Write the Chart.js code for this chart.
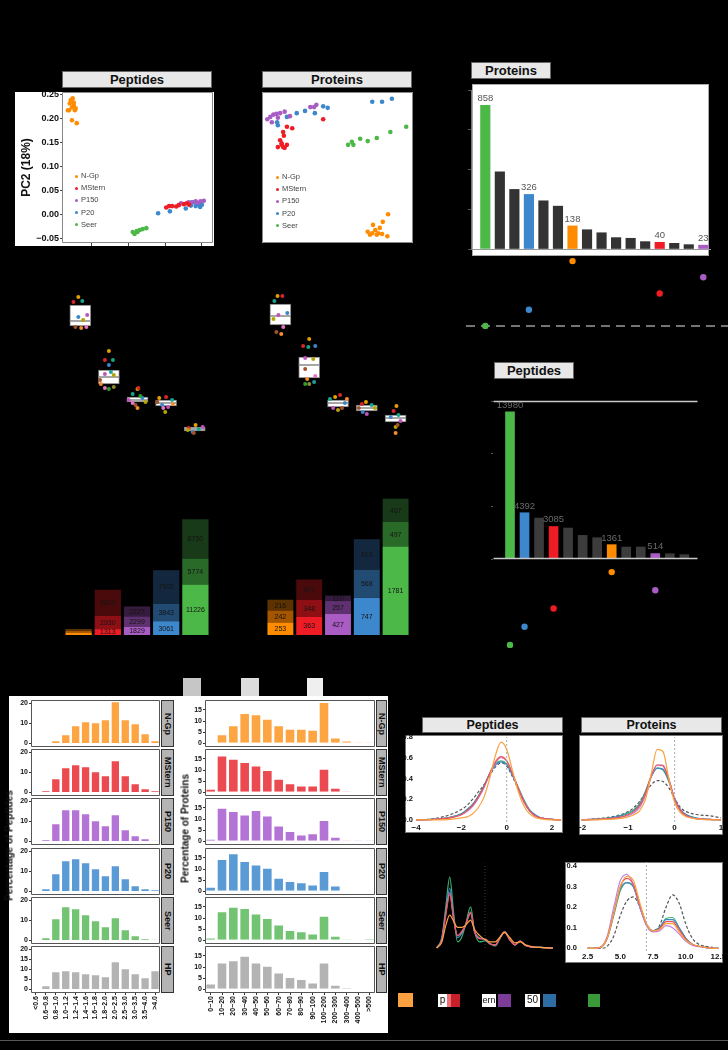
<!DOCTYPE html>
<html>
<head>
<meta charset="utf-8">
<script src="https://cdn.jsdelivr.net/npm/chart.js@4.4.1/dist/chart.umd.min.js"></script>
<style>
html, body { margin: 0; padding: 0; background: #000; }
#fig { position: relative; width: 728px; height: 1050px; background: #000; overflow: hidden; font-family: "Liberation Sans", Arial, sans-serif; }
#fig canvas { position: absolute; }
.box { position: absolute; box-sizing: border-box; }
</style>
</head>
<body>
<div id="fig"></div>
<script>
// ---------------- data ----------------
var groups = ["N-Gp", "MStern", "P150", "P20", "Seer"];
var groupColor = ["#ff8c00", "#ee1c25", "#a95cc4", "#3d87cc", "#4cb848"];

// PCA, peptides [PC1, PC2]
var pepPcaNGp = [[-0.361,0.217],[-0.356,0.238],[-0.351,0.242],[-0.359,0.231],[-0.348,0.233],[-0.353,0.223],[-0.343,0.221],[-0.364,0.217],[-0.353,0.196],[-0.340,0.190],[-0.348,0.227],[-0.345,0.217]];
var pepPcaMStern = [[-0.097,0.014],[-0.089,0.017],[-0.081,0.017],[-0.063,0.019],[-0.049,0.021],[-0.041,0.023],[-0.070,0.016],[-0.035,0.020]];
var pepPcaP150 = [[-0.057,0.023],[-0.036,0.025],[-0.017,0.027],[-0.004,0.027],[-0.028,0.025],[0.005,0.028],[-0.012,0.024]];
var pepPcaP20 = [[-0.119,0.002],[-0.087,0.006],[-0.044,0.012],[-0.017,0.017],[-0.009,0.021],[-0.023,0.025],[-0.030,0.018],[-0.005,0.015],[0.000,0.020]];
var pepPcaSeer = [[-0.188,-0.037],[-0.177,-0.035],[-0.169,-0.033],[-0.161,-0.031],[-0.151,-0.029],[-0.183,-0.041],[-0.175,-0.037]];

// PCA, proteins [PC1, PC2]
var protPcaNGp = [[0.040,-0.085],[0.046,-0.087],[0.050,-0.083],[0.054,-0.087],[0.059,-0.088],[0.066,-0.091],[0.047,-0.076],[0.056,-0.080],[0.060,-0.072],[0.067,-0.062],[0.043,-0.089],[0.052,-0.089]];
var protPcaMStern = [[-0.072,0.047],[-0.067,0.054],[-0.060,0.052],[-0.076,0.036],[-0.074,0.032],[-0.072,0.027],[-0.070,0.026],[-0.074,0.030],[-0.079,0.027],[-0.067,0.030],[-0.019,0.064],[-0.071,0.042]];
var protPcaP150 = [[-0.093,0.064],[-0.089,0.067],[-0.085,0.070],[-0.081,0.071],[-0.087,0.060],[-0.079,0.066],[-0.070,0.074],[-0.063,0.068],[-0.036,0.080],[-0.031,0.080],[-0.028,0.083],[-0.076,0.072]];
var protPcaP20 = [[-0.080,0.060],[-0.079,0.056],[-0.067,0.067],[-0.054,0.072],[-0.043,0.075],[-0.030,0.072],[-0.019,0.081],[-0.013,0.079],[0.046,0.087],[0.059,0.087],[0.072,0.091]];
var protPcaSeer = [[0.014,0.030],[0.019,0.034],[0.030,0.038],[0.040,0.035],[0.052,0.039],[0.070,0.047],[0.091,0.054],[0.021,0.030]];

// intersection sizes (upset), "" = intersection of several sets
var protInterVals = [858, 461, 356, 326, 288, 256, 138, 115, 97, 68, 64, 44, 40, 34, 26, 23];
var protInterSet = ["Seer", "", "", "P20", "", "", "N-Gp", "", "", "", "", "", "MStern", "", "", "P150"];
var pepInterVals = [13980, 4392, 3887, 3085, 2939, 2244, 2022, 1361, 1138, 1138, 514, 500, 411];
var pepInterSet = ["Seer", "P20", "", "MStern", "", "", "", "N-Gp", "", "", "P150", "", ""];
var matrixRows = ["N-Gp", "P150", "MStern", "P20", "Seer"];

// box plots: quartiles, medians and jittered replicate points [offset, value]
var pepBoxQ1 = [29.75, 15.25, 10.75, 9.75, 3.5];
var pepBoxQ3 = [35, 18.75, 12, 11.25, 4.5];
var pepBoxMed = [31, 17, 11.25, 10.5, 4];
var pepBoxPts = [
  [[-0.07,37],[-0.24,35.75],[0.07,36],[-0.07,32],[0.24,32.5],[0.1,31.25],[-0.17,29.5],[0.03,29.25],[0.21,29.5]],
  [[0,23.5],[-0.14,21.25],[0.14,21.25],[0,20],[-0.14,17.75],[0.17,17.5],[-0.31,16.25],[-0.28,15.25],[-0.14,14.25],[0,14],[0.17,14.5],[0.07,18.25]],
  [[0,14],[0.03,14.25],[-0.17,12.75],[0.17,11.75],[-0.31,11.25],[0.28,10.75],[-0.07,10],[0,9.25],[-0.17,10.5],[0.1,12.25]],
  [[-0.24,11.75],[0,12],[0.21,11.25],[-0.14,10],[0.07,9.5],[-0.03,8.25],[-0.31,10.75],[0.24,10.25],[-0.1,9.25]],
  [[0.03,5],[-0.21,4.25],[0.14,4],[-0.07,3.25],[0.28,4.5],[-0.24,3.75],[-0.03,3]]
];
var protBoxQ1 = [30, 16.75, 9.5, 8.5, 5.75];
var protBoxQ3 = [35.25, 22, 11.25, 10, 7.5];
var protBoxMed = [32.25, 20, 10.5, 9.25, 6.75];
var protBoxPts = [
  [[-0.1,37.25],[0.07,37.25],[-0.21,36],[0.24,33],[-0.07,32.5],[-0.24,31.5],[-0.14,28.25],[0.03,27.75],[0.1,29.5]],
  [[0,26.5],[-0.21,24.75],[-0.03,24.5],[0.21,24.75],[-0.14,21.75],[0.14,21.5],[-0.14,19],[-0.07,16.5],[0.21,17.25],[-0.14,15.25],[0,15.25],[0.17,15.75]],
  [[-0.1,12],[0.07,12.5],[-0.28,11.5],[0.24,10.5],[-0.17,9.25],[0,8.75],[0.14,9.25],[0.31,11.5]],
  [[-0.03,10.75],[-0.17,10.25],[0.17,10],[-0.14,8.25],[0,7.75],[0.28,9.25],[-0.28,9.25]],
  [[0.03,9.75],[-0.07,8.5],[0.1,7.5],[-0.17,7],[0.17,6],[0,4.5],[0.07,5],[0,3]]
];
var boxPalette = ["#e69f00", "#d62728", "#17a589", "#3a86c8", "#c054b8", "#b5a300", "#a0522d", "#f28e2b", "#e377c2", "#2ca02c", "#8c8c2c", "#1f9e9e"];

// stacked identifications (bottom / middle / top level)
var pepStackL1 = [560, 1313, 1829, 3061, 11226];
var pepStackL2 = [420, 2930, 2299, 3843, 5774];
var pepStackL3 = [350, 5820, 2227, 7502, 8750];
var protStackL1 = [253, 363, 427, 747, 1781];
var protStackL2 = [242, 348, 257, 568, 497];
var protStackL3 = [216, 407, 110, 615, 467];
var stackShade = [
  ["#ff8c00", "#ee1c25", "#a95cc4", "#3d87cc", "#4cb848"],
  ["#a35500", "#8e1015", "#5f3170", "#224b73", "#2a6a29"],
  ["#5c3300", "#4a0a0c", "#351b3d", "#13283f", "#183a18"]
];

// histograms (percent)
var histNames = ["N-Gp", "MStern", "P150", "P20", "Seer", "HP"];
var histColor = ["#fca542", "#ea4a50", "#b474d6", "#5b9bd5", "#72c472", "#b3b3b3"];
var pepBins = ["<0.6", "0.6~0.8", "0.8~1.0", "1.0~1.2", "1.2~1.4", "1.4~1.6", "1.6~1.8", "1.8~2.0", "2.0~2.5", "2.5~3.0", "3.0~3.5", "3.5~4.0", ">4.0"];
var pepHistNGp = [0, 0, 1.5, 4.5, 9, 11, 10.5, 12, 21, 12, 10, 5, 1.5];
var pepHistMStern = [0, 1, 7, 12.5, 14, 13, 10.5, 8.5, 16, 8.5, 4.5, 2, 1];
var pepHistP150 = [0, 1, 9, 16, 16, 14, 10.5, 8, 13.5, 6, 3, 1.5, 0.5];
var pepHistP20 = [0, 1.5, 9, 15.5, 16.5, 14.5, 11.5, 8, 13, 6.5, 3, 1.5, 1];
var pepHistSeer = [0, 1.5, 11, 17, 16, 13, 10, 7, 11.5, 5.5, 2.5, 1, 0.5];
var pepHistHP = [0, 2, 9, 9.5, 9, 8, 7.5, 6.5, 14, 10.5, 8, 6, 9.5];
var protBins = ["0~10", "10~20", "20~30", "30~40", "40~50", "50~60", "60~70", "70~80", "80~90", "90~100", "100~200", "200~300", "300~400", "400~500", ">500"];
var protHistNGp = [0.3, 4, 8, 13.5, 13, 11, 8, 6.5, 6.5, 6, 18.5, 2.5, 1.2, 0.5, 0.5];
var protHistMStern = [1.5, 16.5, 15, 13.5, 12, 10, 6, 4, 3, 3, 10.5, 2, 0.5, 0.2, 0.2];
var protHistP150 = [1, 15, 13.5, 12, 14, 11.5, 7, 4.5, 3, 3.5, 9.5, 2, 0.5, 0.5, 0.5];
var protHistP20 = [2, 14.5, 17, 13.5, 12, 10.5, 6, 4.5, 4, 3, 9, 2.5, 0.3, 0.3, 0.3];
var protHistSeer = [1.2, 13, 15, 14.5, 12, 10, 7, 4.5, 4, 3, 11, 2, 0.5, 0.2, 0.7];
var protHistHP = [2.5, 12, 13, 15, 12, 10.5, 7.5, 5.5, 4.5, 3, 12, 2, 0.7, 0.2, 0.2];

// density curves (N-Gp, MStern, P150, P20, Seer, HP)
var densColor = ["#f9a242", "#ef5350", "#c084e0", "#3f88c5", "#3bb273", "#555555"];
var pepDensX = [-4, -3.5, -3, -2.5, -2, -1.75, -1.5, -1.25, -1, -0.75, -0.5, -0.25, 0, 0.25, 0.5, 0.75, 1, 1.25, 1.5, 2, 2.4];
var pepDensNGp = [0, 0, 0, 0.005, 0.02, 0.03, 0.06, 0.12, 0.22, 0.40, 0.62, 0.75, 0.68, 0.48, 0.28, 0.14, 0.06, 0.025, 0.01, 0, 0];
var pepDensMStern = [0, 0.002, 0.01, 0.02, 0.05, 0.09, 0.14, 0.22, 0.32, 0.45, 0.56, 0.61, 0.57, 0.45, 0.31, 0.18, 0.09, 0.04, 0.02, 0.005, 0];
var pepDensP150 = [0, 0.002, 0.01, 0.02, 0.05, 0.08, 0.13, 0.21, 0.31, 0.44, 0.55, 0.60, 0.57, 0.45, 0.31, 0.18, 0.09, 0.04, 0.02, 0.005, 0];
var pepDensP20 = [0, 0.003, 0.01, 0.025, 0.06, 0.1, 0.15, 0.23, 0.33, 0.44, 0.53, 0.56, 0.53, 0.43, 0.31, 0.19, 0.1, 0.05, 0.02, 0.005, 0];
var pepDensSeer = [0, 0.003, 0.01, 0.025, 0.06, 0.1, 0.15, 0.23, 0.33, 0.45, 0.54, 0.57, 0.54, 0.44, 0.32, 0.2, 0.1, 0.05, 0.02, 0.005, 0];
var pepDensHP = [0, 0.005, 0.02, 0.05, 0.1, 0.14, 0.2, 0.27, 0.34, 0.43, 0.51, 0.55, 0.52, 0.42, 0.3, 0.18, 0.09, 0.04, 0.02, 0.005, 0];
var protDensX = [-2, -1.75, -1.5, -1.25, -1, -0.875, -0.75, -0.625, -0.5, -0.375, -0.25, -0.125, 0, 0.125, 0.25, 0.5, 0.75, 1];
var protDensNGp = [0, 0, 0.005, 0.01, 0.03, 0.05, 0.09, 0.2, 0.45, 0.68, 0.66, 0.4, 0.17, 0.07, 0.03, 0.01, 0, 0];
var protDensMStern = [0, 0.005, 0.01, 0.02, 0.05, 0.08, 0.14, 0.26, 0.43, 0.53, 0.52, 0.39, 0.2, 0.09, 0.04, 0.01, 0.005, 0];
var protDensP150 = [0, 0.005, 0.01, 0.02, 0.04, 0.07, 0.12, 0.24, 0.42, 0.53, 0.53, 0.40, 0.2, 0.09, 0.04, 0.01, 0.005, 0];
var protDensP20 = [0, 0.005, 0.01, 0.03, 0.06, 0.09, 0.15, 0.27, 0.42, 0.50, 0.49, 0.38, 0.21, 0.1, 0.05, 0.015, 0.005, 0];
var protDensSeer = [0, 0.005, 0.015, 0.03, 0.07, 0.1, 0.16, 0.28, 0.42, 0.50, 0.48, 0.37, 0.2, 0.1, 0.05, 0.015, 0.005, 0];
var protDensHP = [0, 0.01, 0.02, 0.04, 0.08, 0.12, 0.18, 0.26, 0.34, 0.38, 0.37, 0.31, 0.21, 0.12, 0.08, 0.05, 0.04, 0.02];
var protPiX = [2.5, 3, 3.5, 4, 4.5, 5, 5.5, 6, 6.5, 7, 7.5, 8, 8.5, 9, 9.5, 10, 10.5, 11, 11.5, 12, 12.5];
var protPiNGp = [0, 0, 0.005, 0.05, 0.17, 0.3, 0.35, 0.33, 0.22, 0.12, 0.085, 0.09, 0.12, 0.12, 0.08, 0.04, 0.02, 0.01, 0.005, 0, 0];
var protPiMStern = [0, 0, 0.005, 0.05, 0.17, 0.3, 0.34, 0.31, 0.21, 0.12, 0.085, 0.095, 0.13, 0.13, 0.09, 0.045, 0.02, 0.01, 0.005, 0, 0];
var protPiP150 = [0, 0, 0.006, 0.06, 0.2, 0.33, 0.36, 0.31, 0.2, 0.11, 0.08, 0.085, 0.11, 0.1, 0.07, 0.035, 0.015, 0.008, 0.004, 0, 0];
var protPiP20 = [0, 0, 0.005, 0.05, 0.17, 0.29, 0.32, 0.3, 0.2, 0.115, 0.085, 0.1, 0.14, 0.14, 0.1, 0.05, 0.02, 0.01, 0.005, 0, 0];
var protPiSeer = [0, 0, 0.005, 0.05, 0.16, 0.28, 0.32, 0.3, 0.2, 0.115, 0.085, 0.1, 0.145, 0.15, 0.1, 0.05, 0.02, 0.01, 0.005, 0, 0];
var protPiHP = [0, 0, 0, 0.01, 0.06, 0.16, 0.23, 0.25, 0.2, 0.12, 0.085, 0.11, 0.2, 0.26, 0.22, 0.12, 0.05, 0.02, 0.01, 0.005, 0];
var pepPiX = [3.3, 3.7, 4.0, 4.3, 4.6, 4.9, 5.2, 5.5, 5.9, 6.2, 6.6, 7.0, 7.4, 7.8, 8.1, 8.5, 8.9, 9.3, 9.7, 10.1, 10.6, 11.2, 12.2];
var pepPiNGp = [0, 0.03, 0.11, 0.16, 0.13, 0.1, 0.1, 0.11, 0.136, 0.09, 0.06, 0.04, 0.03, 0.03, 0.05, 0.075, 0.05, 0.025, 0.03, 0.015, 0.007, 0.003, 0];
var pepPiMStern = [0, 0.04, 0.16, 0.26, 0.14, 0.06, 0.08, 0.11, 0.175, 0.08, 0.045, 0.045, 0.02, 0.015, 0.045, 0.078, 0.04, 0.015, 0.034, 0.012, 0.005, 0.003, 0];
var pepPiP150 = [0, 0.04, 0.17, 0.27, 0.14, 0.06, 0.075, 0.11, 0.17, 0.08, 0.045, 0.045, 0.02, 0.015, 0.045, 0.078, 0.04, 0.015, 0.034, 0.012, 0.005, 0.003, 0];
var pepPiP20 = [0, 0.05, 0.18, 0.29, 0.15, 0.05, 0.07, 0.11, 0.175, 0.08, 0.05, 0.04, 0.02, 0.015, 0.045, 0.078, 0.04, 0.015, 0.034, 0.012, 0.005, 0.003, 0];
var pepPiSeer = [0, 0.05, 0.2, 0.345, 0.17, 0.03, 0.05, 0.11, 0.2, 0.08, 0.03, 0.035, 0.02, 0.01, 0.04, 0.078, 0.04, 0.015, 0.034, 0.012, 0.005, 0.003, 0];

// ---------------- helpers ----------------
Chart.defaults.font.family = '"Liberation Sans", Arial, sans-serif';
Chart.defaults.animation = false;
Chart.defaults.responsive = false;
Chart.defaults.events = [];
Chart.defaults.layout.autoPadding = false;
Chart.defaults.plugins.legend.display = false;
Chart.defaults.plugins.tooltip.enabled = false;

var fig = document.getElementById("fig");

function rect(x, y, w, h, css, text) {
  var d = document.createElement("div");
  d.className = "box";
  d.style.cssText = "left:" + x + "px;top:" + y + "px;width:" + w + "px;height:" + h + "px;" + (css || "");
  if (text) d.textContent = text;
  fig.appendChild(d);
  return d;
}
function title(x, y, w, h, text, size) {
  return rect(x, y, w, h, "background:#e8e8e8;border:1px solid #666;font-weight:bold;text-align:center;color:#111;font-size:" + size + "px;line-height:" + (h - 2) + "px;", text);
}
function canvas(x, y, w, h) {
  var c = document.createElement("canvas");
  c.width = w;
  c.height = h;
  c.style.left = x + "px";
  c.style.top = y + "px";
  fig.appendChild(c);
  return c;
}
// force an axis to a fixed thickness so the plot area lands where it should
function fix(size) {
  return function (s) {
    if (s.isHorizontal()) s.height = size; else s.width = size;
    s.paddingLeft = 0; s.paddingRight = 0; s.paddingTop = 0; s.paddingBottom = 0;
  };
}
function colorOf(set, dark) {
  var k = groups.indexOf(set);
  return k < 0 ? dark : groupColor[k];
}

var framePlugin = {
  id: "frame",
  afterDatasetsDraw: function (chart, args, o) {
    if (!o.color) return;
    var a = chart.chartArea, ctx = chart.ctx, s = o.sides || "tblr";
    var l = a.left + 0.5, r = a.right - 0.5, t = a.top + 0.5, b = a.bottom - 0.5;
    ctx.save();
    ctx.strokeStyle = o.color;
    ctx.lineWidth = o.width || 1;
    ctx.beginPath();
    if (s.indexOf("t") >= 0) { ctx.moveTo(l, t); ctx.lineTo(r, t); }
    if (s.indexOf("b") >= 0) { ctx.moveTo(l, b); ctx.lineTo(r, b); }
    if (s.indexOf("l") >= 0) { ctx.moveTo(l, t); ctx.lineTo(l, b); }
    if (s.indexOf("r") >= 0) { ctx.moveTo(r, t); ctx.lineTo(r, b); }
    ctx.stroke();
    ctx.restore();
  }
};
var valueLabels = {
  id: "valueLabels",
  afterDatasetsDraw: function (chart, args, o) {
    if (!o.mode) return;
    var ctx = chart.ctx;
    ctx.save();
    ctx.font = o.font;
    ctx.fillStyle = o.color;
    ctx.textAlign = "center";
    chart.data.datasets.forEach(function (ds, di) {
      chart.getDatasetMeta(di).data.forEach(function (el, i) {
        var v = ds.data[i];
        if (typeof v === "object") v = v.y;
        if (o.mode === "top") {
          if (o.show && !o.show[i]) return;
          ctx.textBaseline = "bottom";
          ctx.fillText(v, el.x, el.y - 2);
        } else {
          if (el.base - el.y < 5) return;
          ctx.textBaseline = "middle";
          ctx.fillText(v, el.x, (el.y + el.base) / 2 + 0.5);
        }
      });
    });
    ctx.restore();
  }
};
Chart.register(framePlugin, valueLabels);

function toXY(pts) {
  return pts.map(function (p) { return { x: p[0], y: p[1] }; });
}
function pcaSets(sets) {
  return sets.map(function (pts, k) {
    return { data: toXY(pts), backgroundColor: groupColor[k], pointRadius: 2.3, borderWidth: 0 };
  });
}
function pcaLegend(x, y) {
  groups.forEach(function (g, k) {
    rect(x, y + k * 12.2 - 1.5, 3, 3, "background:" + groupColor[k] + ";border-radius:50%");
    rect(x + 6, y + k * 12.2 - 5, 40, 10, "font-size:7.5px;color:#444;line-height:10px", g);
  });
}
var noTicks = { display: false, drawTicks: false };

// ---------------- PCA ----------------
rect(15, 92, 199, 154, "background:#fff");
title(62, 71, 150, 17, "Peptides", 13);
new Chart(canvas(15, 90, 200, 156), {
  type: "scatter",
  data: { datasets: pcaSets([pepPcaNGp, pepPcaMStern, pepPcaP150, pepPcaP20, pepPcaSeer]) },
  options: {
    layout: { padding: { top: 2, right: 2, left: 0, bottom: 0 } },
    plugins: { frame: { color: "#888" } },
    scales: {
      x: { min: -0.38, max: 0.03, ticks: { display: false, stepSize: 0.1, includeBounds: false },
           grid: { drawOnChartArea: false, tickLength: 3, color: "#444" }, border: { display: false }, afterFit: fix(3) },
      y: { min: -0.06, max: 0.255,
           ticks: { stepSize: 0.05, includeBounds: false, color: "#111", padding: 1, font: { size: 9, weight: "bold" },
                    callback: function (v) { return (v < 0 ? "\u2212" : "") + Math.abs(v).toFixed(2); } },
           grid: { drawOnChartArea: false, tickLength: 2, color: "#444" }, border: { display: false },
           title: { display: true, text: "PC2 (18%)", color: "#111", font: { size: 12, weight: "bold" }, padding: 4 },
           afterFit: fix(47) }
    }
  }
});
pcaLegend(75, 176);

rect(262, 92, 151, 151, "background:#fff");
title(262, 71, 150, 17, "Proteins", 13);
new Chart(canvas(262, 92, 151, 151), {
  type: "scatter",
  data: { datasets: pcaSets([protPcaNGp, protPcaMStern, protPcaP150, protPcaP20, protPcaSeer]) },
  options: {
    layout: { padding: 0 },
    plugins: { frame: { color: "#888" } },
    scales: { x: { display: false, min: -0.1, max: 0.1 }, y: { display: false, min: -0.1, max: 0.1 } }
  }
});
pcaLegend(276, 177);

// ---------------- upset: proteins ----------------
rect(472, 84, 237, 172, "background:#fff;border:1px solid #aaa");
title(471, 62, 80, 17, "Proteins", 13);
new Chart(canvas(468, 84, 243, 174), {
  type: "bar",
  data: { datasets: [{
    data: protInterVals.map(function (v, i) { return { x: i, y: v }; }),
    backgroundColor: protInterSet.map(function (s) { return colorOf(s, "#333"); }),
    barThickness: 9.5
  }] },
  options: {
    layout: { padding: { top: 6, right: 0, left: 0, bottom: 0 } },
    plugins: { valueLabels: { mode: "top", show: protInterSet.map(function (s) { return s !== ""; }), color: "#555", font: '9.5px "Liberation Sans", Arial' } },
    scales: {
      x: { type: "linear", offset: false, min: -0.984, max: 15.53, ticks: { display: false }, grid: noTicks, border: { color: "#999" }, afterFit: fix(9) },
      y: { min: 0, max: 950, ticks: { display: false, stepSize: 250 }, grid: { drawOnChartArea: false, tickLength: 3, color: "#555" }, border: { color: "#777" }, afterFit: fix(3) }
    }
  }
});
function matrixData(sets) {
  return matrixRows.map(function (s, r) { return { x: sets.indexOf(s), y: r }; });
}
function matrixColors() {
  return matrixRows.map(function (s) { return colorOf(s, "#000"); });
}
new Chart(canvas(466, 253, 262, 81), {
  type: "scatter",
  data: { datasets: [
    { data: matrixData(protInterSet), backgroundColor: matrixColors(), pointRadius: 3.2, borderWidth: 0 },
    { data: [{ x: -1.33, y: 4 }, { x: 16.7, y: 4 }], showLine: true, pointRadius: 0, borderColor: "#9a9a9a", borderWidth: 1.5, borderDash: [9, 6] }
  ] },
  options: {
    layout: { padding: 0 },
    scales: { x: { display: false, min: -1.33, max: 16.7 }, y: { display: false, min: -0.5, max: 4.5, reverse: true } }
  }
});

// ---------------- upset: peptides ----------------
title(494, 362, 80, 17, "Peptides", 13);
new Chart(canvas(490, 396, 210, 166), {
  type: "bar",
  data: { datasets: [{
    data: pepInterVals.map(function (v, i) { return { x: i, y: v }; }),
    backgroundColor: pepInterSet.map(function (s) { return colorOf(s, "#3c3c3c"); }),
    barThickness: 9
  }] },
  options: {
    layout: { padding: { top: 5, right: 2, left: 0, bottom: 3 } },
    plugins: {
      frame: { color: "#c8c8c8", sides: "tb", width: 1.5 },
      valueLabels: { mode: "top", show: pepInterSet.map(function (s) { return s !== ""; }), color: "#6a6a6a", font: '9.5px "Liberation Sans", Arial' }
    },
    scales: {
      x: { type: "linear", offset: false, display: false, min: -1.17, max: 12.94 },
      y: { min: 0, max: 15000, ticks: { display: false, stepSize: 5000 }, grid: { drawOnChartArea: false, tickLength: 2, color: "#555" }, border: { display: false }, afterFit: fix(3) }
    }
  }
});
new Chart(canvas(493, 563, 205, 91), {
  type: "scatter",
  data: { datasets: [{ data: matrixData(pepInterSet), backgroundColor: matrixColors(), pointRadius: 3.2, borderWidth: 0 }] },
  options: {
    layout: { padding: 0 },
    scales: { x: { display: false, min: -1.17, max: 12.94 }, y: { display: false, min: -0.5, max: 4.5, reverse: true } }
  }
});

// ---------------- box plots ----------------
function boxChart(x, w, q1, q3, med, pts) {
  var points = [], colors = [];
  pts.forEach(function (list, b) {
    list.forEach(function (p, k) {
      points.push({ x: b + p[0], y: p[1] });
      colors.push(boxPalette[k % boxPalette.length]);
    });
  });
  new Chart(canvas(x, 285, w, 160), {
    type: "bar",
    data: { datasets: [
      { type: "scatter", data: points, backgroundColor: colors, pointRadius: 2, borderWidth: 0 },
      { type: "scatter", data: med.map(function (m, b) { return { x: b, y: m }; }), pointStyle: "line", pointRadius: 10.5, borderColor: "#888", borderWidth: 1.5 },
      { data: q1.map(function (v, b) { return { x: b, y: [v, q3[b]] }; }), backgroundColor: "#fff", borderColor: "#777", borderWidth: 1, borderSkipped: false, barThickness: 21 }
    ] },
    options: {
      layout: { padding: 0 },
      scales: { x: { type: "linear", offset: false, display: false, min: -0.5, max: 4.5 }, y: { display: false, min: 0, max: 40 } }
    }
  });
}
boxChart(66, 143, pepBoxQ1, pepBoxQ3, pepBoxMed, pepBoxPts);
boxChart(266, 144, protBoxQ1, protBoxQ3, protBoxMed, protBoxPts);

// ---------------- stacked identifications ----------------
function stackChart(x, y, w, h, levels, max) {
  new Chart(canvas(x, y, w, h), {
    type: "bar",
    data: { labels: groups, datasets: levels.map(function (vals, l) {
      return { data: vals, backgroundColor: stackShade[l], barPercentage: 0.9, categoryPercentage: 1 };
    }) },
    options: {
      layout: { padding: { bottom: 1 } },
      plugins: { valueLabels: { mode: "mid", color: "#141414", font: '7px "Liberation Sans", Arial' } },
      scales: { x: { display: false, stacked: true }, y: { display: false, stacked: true, min: 0, max: max } }
    }
  });
}
stackChart(64, 500, 146, 136, [pepStackL1, pepStackL2, pepStackL3], 30000);
stackChart(266, 495, 144, 141, [protStackL1, protStackL2, protStackL3], 2820);

// ---------------- histograms ----------------
rect(9, 696, 379, 337, "background:#fff");
rect(183, 678, 18, 18, "background:#c6c6c6");
rect(241, 678, 18, 18, "background:#dcdcdc");
rect(307, 678, 16, 18, "background:#efefef");
var rowTop = [700, 749, 798, 848, 897, 946];

function facet(x0, x1, top, vals, labels, color, ymin, ymax, showX) {
  var yw = 17;
  var xScale = { display: showX, ticks: { autoSkip: false, minRotation: 90, maxRotation: 90, color: "#111", padding: 1, font: { size: 7, weight: "bold" } },
                 grid: { drawOnChartArea: false, offset: false, tickLength: 2, color: "#333" }, border: { display: false } };
  if (showX) xScale.afterFit = fix(36);
  new Chart(canvas(x0 - yw, top - 4, x1 - x0 + yw + 1, 47 + 4 + (showX ? 36 : 1)), {
    type: "bar",
    data: { labels: labels, datasets: [{ data: vals, backgroundColor: color, borderColor: "#fff", borderWidth: 0.8, barPercentage: 0.9, categoryPercentage: 1 }] },
    options: {
      layout: { padding: { top: 4, right: 1, bottom: showX ? 0 : 1, left: 0 } },
      plugins: { frame: { color: "#555" } },
      scales: {
        x: xScale,
        y: { min: ymin, max: ymax, ticks: { stepSize: 5, includeBounds: false, color: "#111", padding: 1, font: { size: 7, weight: "bold" } },
             grid: { drawOnChartArea: false, tickLength: 2, color: "#333" }, border: { display: false }, afterFit: fix(yw) }
      }
    }
  });
}
function strip(x, w, top, text) {
  rect(x, top, w, 47, "background:#b4b4b4;border:1px solid #333;writing-mode:vertical-rl;font-weight:bold;font-size:9px;text-align:center;line-height:" + (w - 2) + "px;color:#111", text);
}
var pepHists = [pepHistNGp, pepHistMStern, pepHistP150, pepHistP20, pepHistSeer, pepHistHP];
var protHists = [protHistNGp, protHistMStern, protHistP150, protHistP20, protHistSeer, protHistHP];
histNames.forEach(function (name, r) {
  facet(31, 160, rowTop[r], pepHists[r], pepBins, histColor[r], -1.8, 21.7, r === 5);
  strip(161, 13, rowTop[r], name);
  facet(205, 375, rowTop[r], protHists[r], protBins, histColor[r], -1.67, 19.5, r === 5);
  strip(376, 11, rowTop[r], name);
});
rect(120, 823, 130, 11, "transform:rotate(-90deg);font-weight:bold;font-size:10px;line-height:11px;text-align:center;color:#111", "Percentage of Proteins");
rect(-56, 840, 130, 11, "transform:rotate(-90deg);font-weight:bold;font-size:10px;line-height:11px;text-align:center;color:#111", "Percentage of Peptides");

// ---------------- density curves ----------------
function densSets(xs, series, dashedLast) {
  return series.map(function (ys, k) {
    var isHP = dashedLast && k === series.length - 1;
    return {
      data: ys.map(function (y, i) { return { x: xs[i], y: y }; }),
      borderColor: isHP ? densColor[5] : densColor[k], borderWidth: 1.2,
      borderDash: isHP ? [3, 2] : [], pointRadius: 0, cubicInterpolationMode: "monotone", fill: false
    };
  });
}
function refLine(x, y0, y1, color, dash) {
  return { data: [{ x: x, y: y0 }, { x: x, y: y1 }], borderColor: color, borderWidth: 1, borderDash: dash, pointRadius: 0 };
}
var axisFont = { size: 8, weight: "bold" };
function fmt1(v) { return (v < 0 ? "\u2212" : "") + Math.abs(v).toFixed(1); }
function fmt0(v) { return (v < 0 ? "\u2212" : "") + Math.abs(v); }

rect(405, 735, 158, 98, "background:#fff;border:1px solid #777");
title(422, 717, 141, 16, "Peptides", 12.5);
new Chart(canvas(405, 735, 158, 98), {
  type: "line",
  data: { datasets: [refLine(0, -0.02, 0.8, "#aaa", [2, 2])].concat(densSets(pepDensX, [pepDensNGp, pepDensMStern, pepDensP150, pepDensP20, pepDensSeer, pepDensHP], true)) },
  options: {
    layout: { padding: { top: 2, right: 1, left: 0, bottom: 0 } },
    scales: {
      x: { type: "linear", min: -4.09, max: 2.44, ticks: { stepSize: 2, includeBounds: false, color: "#111", padding: 1, font: axisFont, callback: fmt0 },
           grid: noTicks, border: { display: false }, afterFit: fix(11) },
      y: { min: -0.02, max: 0.8, ticks: { stepSize: 0.2, includeBounds: false, color: "#111", padding: 1, font: { size: 7.5, weight: "bold" }, callback: fmt1 },
           grid: noTicks, border: { display: false }, afterFit: fix(9) }
    }
  }
});

rect(579, 735, 144, 100, "background:#fff;border:1px solid #777");
title(581, 717, 141, 16, "Proteins", 12.5);
new Chart(canvas(579, 735, 144, 100), {
  type: "line",
  data: { datasets: [refLine(0, -0.02, 0.8, "#aaa", [2, 2])].concat(densSets(protDensX, [protDensNGp, protDensMStern, protDensP150, protDensP20, protDensSeer, protDensHP], true)) },
  options: {
    layout: { padding: { top: 2, right: 0, left: 0, bottom: 0 } },
    scales: {
      x: { type: "linear", min: -2.058, max: 1.042, ticks: { stepSize: 1, includeBounds: false, color: "#111", padding: 1, font: axisFont, callback: fmt0 },
           grid: noTicks, border: { display: false }, afterFit: fix(13) },
      y: { display: false, min: -0.02, max: 0.8 }
    }
  }
});

new Chart(canvas(430, 860, 130, 95), {
  type: "line",
  data: { datasets: [refLine(7, 0, 0.41, "#3a3a3a", [1, 2])].concat(densSets(pepPiX, [pepPiNGp, pepPiMStern, pepPiP150, pepPiP20, pepPiSeer], false)) },
  options: {
    layout: { padding: 0 },
    scales: { x: { type: "linear", display: false, min: 2.79, max: 12.74 }, y: { display: false, min: -0.034, max: 0.428 } }
  }
});

rect(565, 862, 158, 101, "background:#fff;border:1px solid #777");
new Chart(canvas(565, 862, 158, 101), {
  type: "line",
  data: { datasets: [refLine(7, -0.013, 0.42, "#aaa", [2, 2])].concat(densSets(protPiX, [protPiNGp, protPiMStern, protPiP150, protPiP20, protPiSeer, protPiHP], true)) },
  options: {
    layout: { padding: 0 },
    scales: {
      x: { type: "linear", min: 1.76, max: 12.86, ticks: { stepSize: 2.5, includeBounds: false, color: "#111", padding: 1, font: axisFont, callback: fmt1 },
           grid: noTicks, border: { display: false }, afterFit: fix(12) },
      y: { min: -0.013, max: 0.42, ticks: { stepSize: 0.1, includeBounds: false, color: "#111", padding: 1, font: { size: 7.5, weight: "bold" }, callback: fmt1 },
           grid: noTicks, border: { display: false }, afterFit: fix(13) }
    }
  }
});

// ---------------- legend fragments ----------------
rect(398, 993, 15, 14, "background:#f9a040");
rect(438, 994, 9, 13, "background:#fff;font-size:10px;line-height:12px;color:#111;text-align:center", "p");
rect(447, 994, 4, 13, "background:#f07070");
rect(451, 994, 9, 13, "background:#c8202a");
rect(482, 994, 14, 13, "background:#fff;font-size:9px;line-height:12px;color:#111;text-align:center;overflow:hidden", "ern");
rect(498, 994, 13, 13, "background:#7d3c98");
rect(525, 994, 15, 13, "background:#fff;font-size:10px;line-height:12px;color:#111;text-align:center;overflow:hidden", "50");
rect(543, 994, 13, 13, "background:#2e6ca4");
rect(588, 994, 12, 13, "background:#3a9a3a");
rect(0, 1040, 728, 1, "background:#555");
</script>
</body>
</html>
